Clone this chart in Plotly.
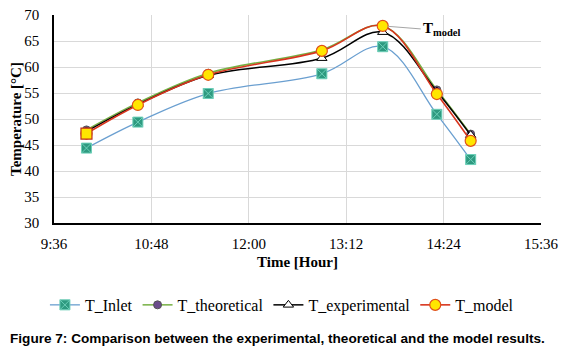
import plotly.graph_objects as go

# ---- data ----
times = ["10:00", "10:38", "11:30", "12:54", "13:39", "14:19", "14:44"]
t_inlet = [44.4, 49.4, 54.9, 58.7, 63.9, 50.9, 42.2]
t_theoretical = [47.9, 53.1, 58.8, 63.3, 67.9, 55.6, 47.1]
t_experimental = [47.6, 52.8, 58.4, 61.7, 66.7, 55.3, 46.9]
t_model = [47.2, 52.7, 58.5, 63.1, 67.9, 54.8, 45.8]
x_ticks = ["9:36", "10:48", "12:00", "13:12", "14:24", "15:36"]
y_range = [30, 70]

DAY = "2024-01-01 "
def to_dt(s):
    h, m = s.split(":")
    return f"{DAY}{int(h):02d}:{m}:00"

xs = [to_dt(t) for t in times]
tickvals = [to_dt(t) for t in x_ticks]

SERIF = "Liberation Serif, Times New Roman, serif"

fig = go.Figure()

fig.add_trace(go.Scatter(
    x=xs, y=t_inlet, name="T_Inlet", mode="lines+markers",
    line=dict(color="#6A9FD0", width=1.3, shape="spline", smoothing=1),
    marker=dict(symbol="square-x", size=10, color="#2E9A80",
                line=dict(color="#6CCFB8", width=1)),
))
fig.add_trace(go.Scatter(
    x=xs, y=t_theoretical, name="T_theoretical", mode="lines+markers",
    line=dict(color="#76B043", width=1.5, shape="spline", smoothing=1),
    marker=dict(symbol="circle", size=8, color="#6B4C8C",
                line=dict(color="#555555", width=1)),
))
fig.add_trace(go.Scatter(
    x=xs, y=t_experimental, name="T_experimental", mode="lines+markers",
    line=dict(color="#000000", width=1.5, shape="spline", smoothing=1),
    marker=dict(symbol="triangle-up", size=9, color="#FFFFFF",
                line=dict(color="#000000", width=1)),
))
fig.add_trace(go.Scatter(
    x=xs, y=t_model, name="T_model", mode="lines+markers",
    line=dict(color="#D8351E", width=1.6, shape="spline", smoothing=1),
    marker=dict(symbol="circle", size=11,
                color="#FFE600", line=dict(color="#E0501A", width=1.2)),
))
# first model point is drawn as a square marker in the reference
fig.add_trace(go.Scatter(
    x=xs[:1], y=t_model[:1], mode="markers", showlegend=False, hoverinfo="skip",
    marker=dict(symbol="square", size=11,
                color="#FFE600", line=dict(color="#C0301A", width=1.2)),
))

fig.add_annotation(
    x=to_dt("13:39"), y=67.9, xref="x", yref="y",
    text="<b>T<sub>model</sub></b>",
    font=dict(family=SERIF, size=15, color="#000000"),
    showarrow=True, arrowhead=0, arrowwidth=1, arrowcolor="#A6A6A6",
    ax=38, ay=3, xanchor="left", standoff=5,
)

fig.add_annotation(
    x=-0.0945, y=-0.553, xref="paper", yref="paper",
    xanchor="left", yanchor="middle", showarrow=False,
    text="<b>Figure 7: Comparison between the experimental, theoretical and the model results.</b>",
    font=dict(family="Liberation Sans, Arial, sans-serif", size=13.6, color="#000000"),
)

# the page body adds an 8px offset, so the figure is 8px smaller and margins shifted
fig.update_layout(
    width=559, height=346,
    margin=dict(l=46, r=26, t=7, b=131, autoexpand=False),
    paper_bgcolor="#FFFFFF", plot_bgcolor="#FFFFFF",
    font=dict(family=SERIF, size=15, color="#000000"),
    showlegend=True,
    legend=dict(orientation="h", x=0.468, xanchor="center", y=-0.394, yanchor="middle",
                font=dict(family=SERIF, size=16), itemwidth=30,
                bgcolor="rgba(0,0,0,0)"),
    xaxis=dict(
        type="date", range=[tickvals[0], tickvals[-1]],
        tickvals=tickvals, ticktext=x_ticks,
        showgrid=True, gridcolor="#D9D9D9", gridwidth=1,
        showline=True, linecolor="#000000", linewidth=1.5,
        ticks="", ticklabelstandoff=6, zeroline=False, automargin=False,
        ticklabeloverflow="allow",
        tickfont=dict(family=SERIF, size=15),
        title=dict(text="<b>Time [Hour]</b>", font=dict(family=SERIF, size=15), standoff=6),
    ),
    yaxis=dict(
        range=y_range, dtick=5, tick0=30,
        showgrid=True, gridcolor="#D9D9D9", gridwidth=1,
        showline=True, linecolor="#000000", linewidth=1.5,
        ticks="", ticklabelstandoff=10, zeroline=False, automargin=False,
        ticklabeloverflow="allow",
        tickfont=dict(family=SERIF, size=15),
        title=dict(text="<b>Temperature [°C]</b>", font=dict(family=SERIF, size=15), standoff=6),
    ),
)

fig.write_html("out.html")
